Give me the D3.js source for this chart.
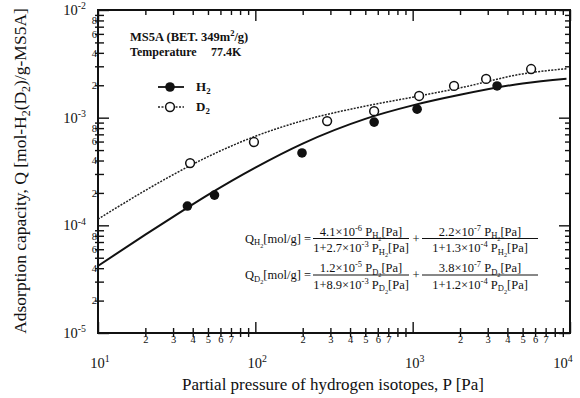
<!DOCTYPE html>
<html><head><meta charset="utf-8">
<script src="https://cdn.jsdelivr.net/npm/d3@7"></script>
<style>body{margin:0;background:#fff}svg{display:block;font-family:"Liberation Serif","Times New Roman",Times,serif}text{font-family:"Liberation Serif","Times New Roman",Times,serif;fill:#111}</style>
</head><body><svg id="c" width="580" height="398"></svg>
<script>
// ---- data ----
const h2P = [37, 55, 198, 569, 1067, 3440];
const h2Q = [1.51e-4, 1.91e-4, 4.7e-4, 9.1e-4, 1.2e-3, 1.97e-3];
const d2P = [38.5, 98, 286, 569, 1099, 1832, 2930, 5660];
const d2Q = [3.79e-4, 5.94e-4, 9.3e-4, 1.15e-3, 1.59e-3, 1.97e-3, 2.29e-3, 2.83e-3];
const fitP  = [10, 20, 30, 50, 100, 200, 500, 1000, 2000, 5000, 9500];
const fitH2 = [4.2e-5, 8.2e-5, 1.2e-4, 1.92e-4, 3.44e-4, 5.75e-4, 9.75e-4, 1.30e-3, 1.63e-3, 2.08e-3, 2.30e-3];
const fitD2 = [1.14e-4, 2.11e-4, 2.95e-4, 4.34e-4, 6.72e-4, 9.37e-4, 1.28e-3, 1.55e-3, 1.89e-3, 2.55e-3, 2.85e-3];
const xMajor = [10, 100, 1000, 10000];
const xMajorExp = ["1", "2", "3", "4"];
const yMajor = [1e-5, 1e-4, 1e-3, 1e-2];
const yMajorExp = ["-5", "-4", "-3", "-2"];
const xMinorLabels = ["2", "3", "4", "5", "6", "7"];
const yMinorLabels = ["2", "4", "6", "8"];

const svg = d3.select("#c");
const L = 98, R = 570, T = 10, B = 333;
const x = d3.scaleLog().domain([10, 1e4]).range([L, R]);
const y = d3.scaleLog().domain([1e-5, 1e-2]).range([B, T]);

const minors = (lo, hi) => { const a = []; for (let e = lo; e < hi; e++) for (let j = 2; j <= 9; j++) a.push(j * Math.pow(10, e)); return a; };
const xMin = minors(1, 4), yMin = minors(-5, -2);
const mant = d => Math.round(d / Math.pow(10, Math.floor(Math.log10(d) + 1e-9)));

function styleAxis(g) {
  g.attr("font-family", null).attr("font-size", null);
  g.select(".domain").remove();
  g.selectAll("line").attr("stroke", "#111").attr("stroke-width", 1.4);
}

// bottom
svg.append("g").attr("transform", `translate(0,${B})`)
  .call(d3.axisBottom(x).tickValues(xMajor).tickSize(-11).tickFormat("")).call(styleAxis);
const bm = svg.append("g").attr("transform", `translate(0,${B})`)
  .call(d3.axisBottom(x).tickValues(xMin).tickSize(-5).tickFormat(d => xMinorLabels.includes(String(mant(d))) ? String(mant(d)) : ""))
  .call(styleAxis);
bm.selectAll("line").attr("y2", 4).attr("y1", -5);
bm.selectAll("text").attr("y", 3).attr("dy", "0.71em").style("font-size", "10.5px");
// top
svg.append("g").attr("transform", `translate(0,${T})`).call(d3.axisTop(x).tickValues(xMajor).tickSize(-11).tickFormat("")).call(styleAxis);
svg.append("g").attr("transform", `translate(0,${T})`).call(d3.axisTop(x).tickValues(xMin).tickSize(-5).tickFormat("")).call(styleAxis);
// left
svg.append("g").attr("transform", `translate(${L},0)`).call(d3.axisLeft(y).tickValues(yMajor).tickSize(-11).tickFormat("")).call(styleAxis);
const lm = svg.append("g").attr("transform", `translate(${L},0)`)
  .call(d3.axisLeft(y).tickValues(yMin).tickSize(-5).tickFormat(d => yMinorLabels.includes(String(mant(d))) ? String(mant(d)) : ""))
  .call(styleAxis);
lm.selectAll("line").attr("x1", -3).attr("x2", 6);
lm.selectAll("text").attr("x", -1).style("font-size", "10.5px");
// right
svg.append("g").attr("transform", `translate(${R},0)`).call(d3.axisRight(y).tickValues(yMajor).tickSize(-11).tickFormat("")).call(styleAxis);
svg.append("g").attr("transform", `translate(${R},0)`).call(d3.axisRight(y).tickValues(yMin).tickSize(-5).tickFormat("")).call(styleAxis);

// frame
svg.append("rect").attr("x", L).attr("y", T).attr("width", R - L).attr("height", B - T)
  .attr("fill", "none").attr("stroke", "#111").attr("stroke-width", 2);

// rich text helper: segments are strings or {k: "sup"|"sub"|"sub2", t}
function rich(parent, px, py, segs, size, anchor, weight) {
  const t = parent.append("text").attr("x", px).attr("y", py).attr("text-anchor", anchor || "start")
    .style("font-size", size + "px").style("font-weight", weight || "normal");
  let shift = 0;
  segs.forEach(s => {
    const kind = typeof s === "string" ? "n" : s.k;
    const txt = typeof s === "string" ? s : s.t;
    let target = 0, fs = size;
    if (kind === "sup") { target = -size * 0.38; fs = size * 0.68; }
    if (kind === "sub") { target = size * 0.22; fs = size * 0.68; }
    if (kind === "sub2") { target = size * 0.40; fs = size * 0.5; }
    t.append("tspan").attr("dy", target - shift).style("font-size", fs + "px").text(txt);
    shift = target;
  });
  return t;
}

// major tick labels
xMajor.forEach((v, i) => rich(svg, Math.min(x(v) + 2, 563), 368, ["10", { k: "sup", t: xMajorExp[i] }], 14.5, "middle"));
yMajor.forEach((v, i) => rich(svg, 86, y(v) + 5, ["10", { k: "sup", t: yMajorExp[i] }], 14.5, "end"));

// axis titles
svg.append("text").attr("x", 333).attr("y", 390).attr("text-anchor", "middle").style("font-size", "17px")
  .text("Partial pressure of hydrogen isotopes, P [Pa]");
const yt = rich(svg, 0, 0, ["Adsorption capacity, Q [mol-H", { k: "sub", t: "2" }, "(D", { k: "sub", t: "2" }, ")/g-MS5A]"], 17.5, "middle");
yt.attr("transform", "translate(26,171) rotate(-90)");

// fitted curves
const line = d3.line().x(d => x(d[0])).y(d => y(d[1])).curve(d3.curveMonotoneX);
svg.append("path").datum(fitP.map((p, i) => [p, fitD2[i]])).attr("d", line)
  .attr("fill", "none").attr("stroke", "#222").attr("stroke-width", 1.5).attr("stroke-dasharray", "2,1.3");
svg.append("path").datum(fitP.map((p, i) => [p, fitH2[i]])).attr("d", line)
  .attr("fill", "none").attr("stroke", "#111").attr("stroke-width", 2);

// points
svg.append("g").selectAll("circle").data(d2P.map((p, i) => [p, d2Q[i]])).join("circle")
  .attr("cx", d => x(d[0])).attr("cy", d => y(d[1])).attr("r", 4.4)
  .attr("fill", "#fff").attr("stroke", "#111").attr("stroke-width", 1.5);
svg.append("g").selectAll("circle").data(h2P.map((p, i) => [p, h2Q[i]])).join("circle")
  .attr("cx", d => x(d[0])).attr("cy", d => y(d[1])).attr("r", 4.8).attr("fill", "#111");

// annotation
rich(svg, 130, 41, ["MS5A (BET. 349m", { k: "sup", t: "2" }, "/g)"], 12.5, "start", "bold");
svg.append("text").attr("x", 130).attr("y", 55.5).style("font-size", "12px").style("font-weight", "bold").text("Temperature");
svg.append("text").attr("x", 211).attr("y", 55.5).style("font-size", "12px").style("font-weight", "bold").text("77.4K");

// legend
svg.append("line").attr("x1", 158).attr("x2", 184).attr("y1", 87).attr("y2", 87).attr("stroke", "#111").attr("stroke-width", 1.8);
svg.append("circle").attr("cx", 170).attr("cy", 87).attr("r", 4.8).attr("fill", "#111");
rich(svg, 196, 91, ["H", { k: "sub", t: "2" }], 13, "start", "bold");
svg.append("line").attr("x1", 158).attr("x2", 184).attr("y1", 107).attr("y2", 107).attr("stroke", "#222").attr("stroke-width", 1.4).attr("stroke-dasharray", "2,1.5");
svg.append("circle").attr("cx", 170).attr("cy", 107).attr("r", 4.4).attr("fill", "#fff").attr("stroke", "#111").attr("stroke-width", 1.5);
rich(svg, 196, 111, ["D", { k: "sub", t: "2" }], 13, "start", "bold");

// equations
const eq = svg.append("g");
const ES = 12.5;
function frac(cx, x0, x1, yb, num, den) {
  rich(eq, cx, yb - 3, num, ES, "middle");
  eq.append("line").attr("x1", x0).attr("x2", x1).attr("y1", yb).attr("y2", yb).attr("stroke", "#111").attr("stroke-width", 1);
  rich(eq, cx, yb + 13.5, den, ES, "middle");
}
function eqRow(yb, gas, n1, d1, n2, d2) {
  rich(eq, 311, yb + 4, ["Q", { k: "sub", t: gas }, { k: "sub2", t: "2" }, "[mol/g] ="], ES, "end");
  frac(361, 313, 409, yb, n1, d1);
  eq.append("text").attr("x", 416).attr("y", yb + 4).attr("text-anchor", "middle").style("font-size", ES + "px").text("+");
  frac(480, 422, 538, yb, n2, d2);
}
const PH = [" P", { k: "sub", t: "H" }, { k: "sub2", t: "2" }, "[Pa]"], PD = [" P", { k: "sub", t: "D" }, { k: "sub2", t: "2" }, "[Pa]"];
eqRow(238.5, "H",
  ["4.1×10", { k: "sup", t: "-6" }, ...PH], ["1+2.7×10", { k: "sup", t: "-3" }, ...PH],
  ["2.2×10", { k: "sup", t: "-7" }, ...PH], ["1+1.3×10", { k: "sup", t: "-4" }, ...PH]);
eqRow(275, "D",
  ["1.2×10", { k: "sup", t: "-5" }, ...PD], ["1+8.9×10", { k: "sup", t: "-3" }, ...PD],
  ["3.8×10", { k: "sup", t: "-7" }, ...PD], ["1+1.2×10", { k: "sup", t: "-4" }, ...PD]);
</script></body></html>
